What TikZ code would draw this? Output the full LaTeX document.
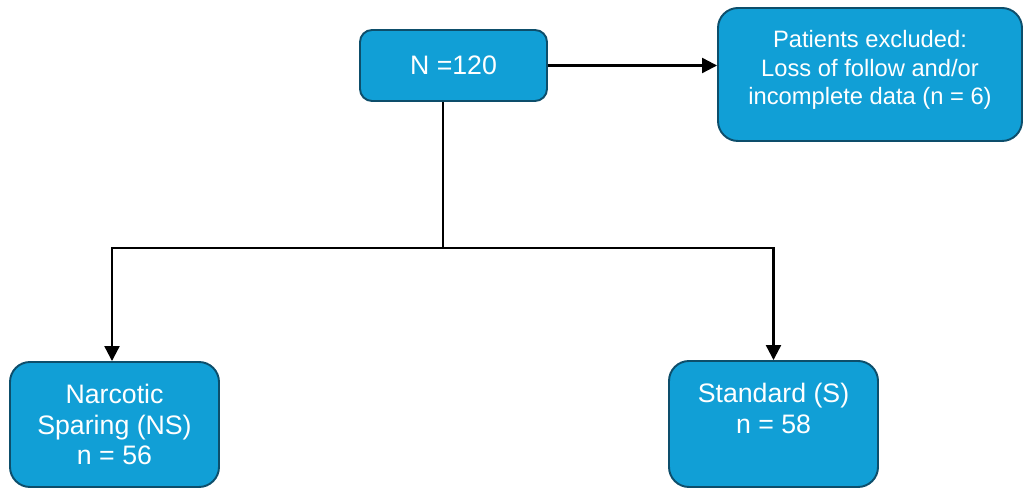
\documentclass[tikz,border=0pt]{standalone}
\usepackage{fontspec}
\setmainfont{Liberation Sans}
\usetikzlibrary{arrows.meta}
\definecolor{boxfill}{HTML}{119FD6}
\definecolor{boxline}{HTML}{0D4E6B}
\begin{document}
\begin{tikzpicture}[
  flowbox/.style={rectangle, draw=boxline, fill=boxfill, line width=1.1pt, text=white,
    align=center, font=\fontsize{13.5}{16}\selectfont, inner sep=2pt},
  bigbox/.style={flowbox, font=\fontsize{15.2}{17.6}\selectfont},
  link/.style={line width=1.3pt, -{Triangle[length=0.3cm, width=0.3cm]}}]
  \useasboundingbox (0, 0) rectangle (20.46, 9.76);
  % Nodes
  \node (N) [bigbox, rounded corners=0.24cm, minimum width=3.74cm, minimum height=1.42cm] at (9.07, 8.45) {N =120};
  \node (X) [flowbox, rounded corners=0.4cm, minimum width=6.08cm, minimum height=2.66cm] at (17.40, 8.27) {Patients excluded:\\Loss of follow and/or\\incomplete data (n = 6)\\[-8pt]};
  \node (NS) [bigbox, rounded corners=0.4cm, minimum width=4.18cm, minimum height=2.5cm] at (2.29, 1.27) {Narcotic\\Sparing (NS)\\n = 56};
  \node (S) [bigbox, rounded corners=0.4cm, minimum width=4.18cm, minimum height=2.52cm] at (15.47, 1.28) {Standard (S)\\n = 58\\\mbox{}};
  \coordinate (split) at (8.86, 4.80);
  % Arrows
  \draw[link] (N.east) -- (N.east -| X.west);
  \draw[line width=1.3pt] (N.south -| split) -- (split);
  \draw[link] (split) -| (NS.north -| 2.24, 0);
  \draw[link] (split) -| (S.north);
\end{tikzpicture}
\end{document}
